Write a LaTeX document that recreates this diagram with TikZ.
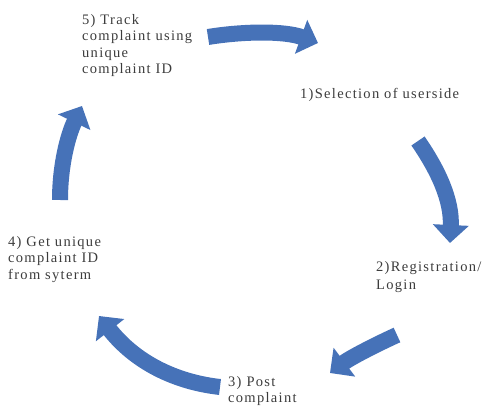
\documentclass[tikz,border=0pt]{standalone}
\usepackage{fontspec}
\setmainfont{Liberation Serif}[LetterSpace=9]
\usepackage{xcolor}
\definecolor{cycleblue}{RGB}{70, 114, 184}
\definecolor{labelgray}{RGB}{60, 60, 60}
\usetikzlibrary{arrows.meta}

\begin{document}
\begin{tikzpicture}[
    x=1pt, y=-1pt,
    steplabel/.style={align=left, anchor=north west, inner sep=0pt, text=labelgray, font=\fontsize{14.5}{16.5}\selectfont},
    cyclearrow/.style={draw=cycleblue, line width=16pt, -{Triangle[width=35pt, length=18pt]}}
]
\useasboundingbox (0,0) rectangle (485,411);

% Step labels
\node[steplabel] (track) at (82,14) {5) Track\\ complaint using\\ unique\\ complaint ID};
\node[steplabel] (sel) at (300,88) {1)Selection of userside};
\node[steplabel] (reg) at (376,261) {2)Registration/\\[2pt] Login};
\node[steplabel] (post) at (228,376) {3) Post\\ complaint};
\node[steplabel] (getid) at (8,236) {4) Get unique\\ complaint ID\\ from syterm};

% Arrow ends
\coordinate (a1s) at (208,37);  \coordinate (a1e) at (318,43);
\coordinate (a2s) at (418,141); \coordinate (a2e) at (450,243);
\coordinate (a3s) at (397,335); \coordinate (a3e) at (330,373);
\coordinate (a4s) at (220,387); \coordinate (a4e) at (99,316);
\coordinate (a5s) at (60,200);  \coordinate (a5e) at (82,106);

% Cycle arrows
\draw[cyclearrow] (a1s) .. controls (245,31) and (285,31) .. (a1e);
\draw[cyclearrow] (a2s) .. controls (438,170) and (452,200) .. (a2e);
\draw[cyclearrow] (a3s) .. controls (375,345) and (350,358) .. (a3e);
\draw[cyclearrow] (a4s) .. controls (175,382) and (135,362) .. (a4e);
\draw[cyclearrow] (a5s) .. controls (60,165) and (68,135) .. (a5e);

\end{tikzpicture}
\end{document}
